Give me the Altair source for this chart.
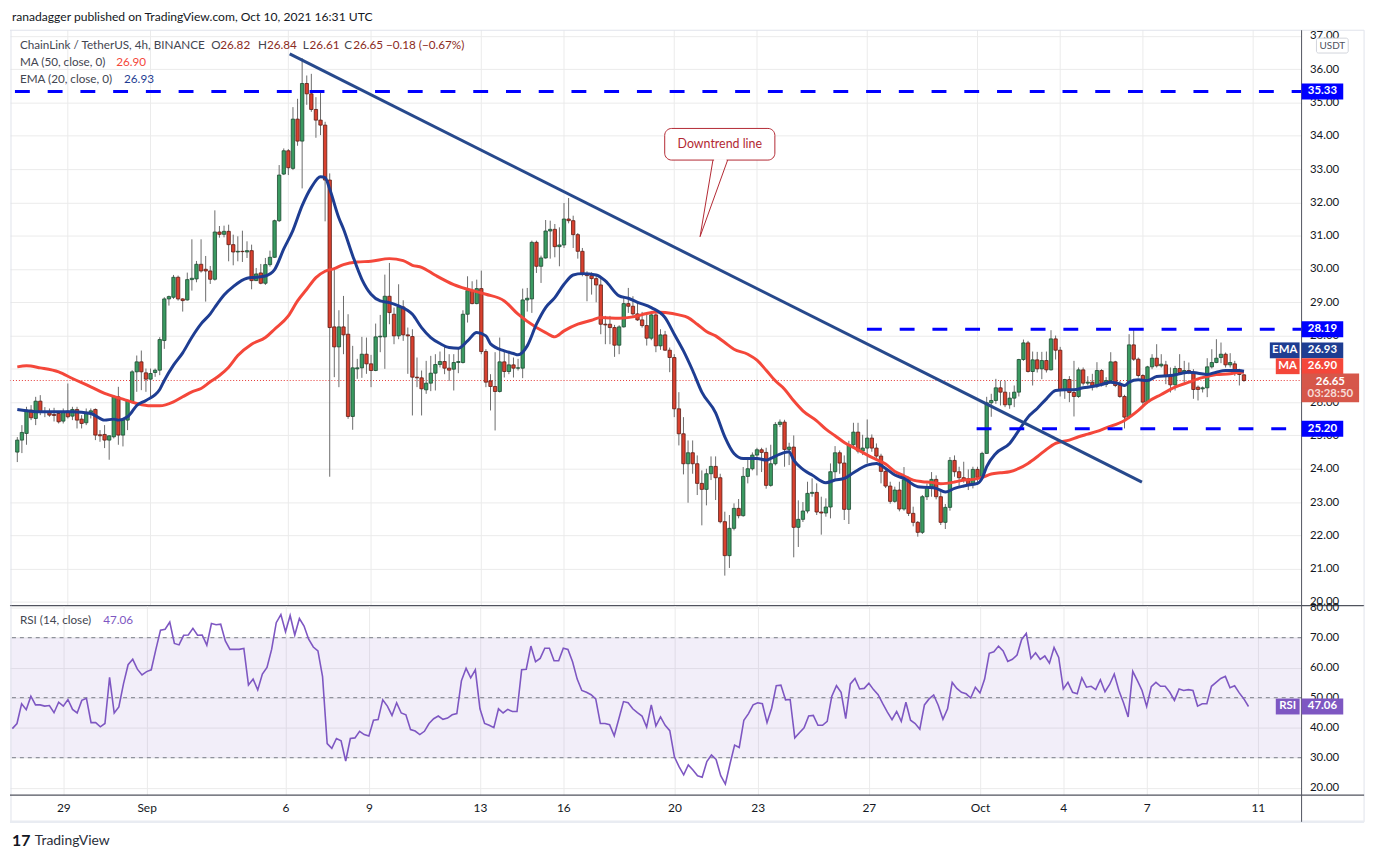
import altair as alt
import pandas as pd

# ---------------- values ----------------
# 4h candles of LINK/USDT, the first one opens 2021-08-27 04:00
first_open = "2021-08-27 04:00"
opens = [
    24.50, 24.86, 25.06, 25.76, 25.51, 26.03, 25.69, 25.71, 25.63, 25.66,
    25.43, 25.73, 25.58, 25.78, 25.49, 25.38, 25.69, 25.78, 25.02, 25.03,
    24.86, 24.96, 26.16, 25.01, 25.46, 26.01, 26.91, 27.21, 26.88, 26.69,
    26.89, 26.96, 27.85, 29.10, 29.15, 29.75, 29.10, 29.07, 29.68, 29.70,
    30.14, 29.99, 29.94, 29.69, 31.11, 31.04, 31.13, 30.73, 30.51, 30.53,
    30.51, 30.55, 29.65, 29.88, 29.57, 30.13, 30.35, 31.45, 32.85, 33.55,
    33.02, 34.50, 33.84, 35.57, 35.26, 34.79, 34.47, 34.32, 32.67, 28.26,
    27.66, 28.26, 28.04, 25.57, 27.00, 27.03, 27.44, 27.15, 26.95, 27.96,
    27.96, 29.18, 28.64, 27.99, 28.86, 28.02, 27.97, 26.75, 26.73, 26.37,
    26.57, 26.87, 27.13, 27.22, 27.02, 26.99, 27.19, 27.19, 28.64, 29.35,
    28.96, 29.41, 27.52, 26.64, 26.47, 26.32, 27.21, 26.92, 27.12, 27.02,
    27.02, 29.07, 29.10, 30.80, 30.08, 30.33, 31.14, 31.19, 30.67, 30.72,
    31.50, 31.45, 31.03, 30.53, 29.85, 29.80, 29.71, 29.52, 28.34, 28.34,
    28.24, 27.71, 28.26, 28.96, 28.88, 28.65, 28.47, 28.30, 27.92, 28.62,
    27.69, 28.02, 27.56, 27.34, 25.80, 25.05, 24.15, 24.48, 24.15, 23.56,
    23.38, 23.85, 24.07, 23.73, 22.41, 21.39, 22.21, 22.81, 22.59, 23.77,
    24.00, 24.41, 24.57, 24.49, 23.50, 24.15, 25.33, 25.40, 24.58, 24.65,
    22.24, 22.48, 22.73, 23.26, 23.29, 22.70, 22.67, 22.85, 23.91, 24.48,
    24.17, 22.78, 24.72, 25.10, 24.53, 24.62, 24.92, 24.62, 24.38, 23.92,
    23.48, 23.02, 23.36, 22.79, 23.67, 22.66, 22.39, 22.09, 23.16, 23.44,
    23.68, 23.16, 22.39, 22.84, 24.25, 23.91, 23.73, 23.70, 23.52, 23.98,
    23.74, 24.46, 25.98, 26.05, 26.43, 26.30, 25.92, 26.12, 26.30, 27.28,
    27.78, 26.92, 27.27, 27.00, 27.25, 26.97, 27.90, 27.56, 26.35, 26.68,
    26.29, 26.17, 26.97, 26.57, 26.60, 26.48, 26.95, 26.53, 26.65, 27.21,
    26.50, 26.17, 25.55, 27.72, 27.29, 26.80, 26.00, 27.06, 27.32, 27.09,
    27.12, 26.79, 26.52, 27.01, 26.90, 26.95, 26.90, 26.45, 26.40, 26.43,
    27.06, 27.19, 27.34, 27.44, 27.12, 27.15, 26.95, 26.82,
]
highs = [
    24.95, 25.31, 25.86, 25.91, 26.16, 26.21, 25.85, 25.81, 25.83, 25.71,
    25.81, 26.56, 25.86, 25.86, 25.61, 25.81, 25.81, 25.81, 25.16, 25.31,
    25.00, 26.21, 26.46, 25.51, 26.06, 26.96, 27.40, 27.55, 27.01, 27.01,
    27.01, 27.95, 29.15, 29.20, 29.82, 29.80, 29.12, 29.89, 30.89, 30.24,
    30.89, 30.39, 30.09, 31.76, 31.29, 31.30, 31.33, 31.03, 30.98, 31.15,
    30.83, 30.73, 30.03, 30.15, 30.33, 30.55, 31.48, 33.12, 33.62, 33.60,
    34.86, 35.11, 36.33, 35.81, 35.86, 35.16, 35.36, 34.42, 32.87, 30.03,
    28.76, 29.19, 28.64, 27.69, 27.30, 27.96, 27.94, 27.42, 28.36, 28.62,
    29.83, 30.18, 28.84, 29.54, 29.06, 28.24, 28.19, 27.34, 26.95, 27.24,
    27.39, 27.44, 27.52, 27.67, 27.44, 27.44, 27.64, 28.76, 29.78, 29.63,
    29.68, 29.95, 27.59, 26.84, 27.50, 27.94, 27.54, 27.54, 27.34, 27.30,
    29.41, 29.43, 30.85, 30.85, 30.40, 31.47, 31.45, 31.35, 31.25, 31.98,
    32.13, 31.60, 31.08, 30.63, 29.93, 29.90, 29.81, 29.73, 28.59, 28.59,
    28.32, 28.31, 29.18, 29.43, 29.18, 28.98, 28.71, 28.66, 28.74, 28.71,
    28.19, 28.14, 27.64, 27.44, 26.30, 25.55, 24.85, 24.85, 24.40, 23.95,
    24.00, 24.37, 24.37, 23.85, 22.71, 22.61, 22.96, 23.09, 24.05, 24.27,
    24.49, 24.63, 24.63, 24.63, 24.72, 25.40, 25.48, 25.47, 24.78, 25.00,
    23.05, 23.00, 23.61, 23.71, 23.56, 23.16, 23.11, 24.16, 24.68, 24.55,
    24.40, 24.84, 25.38, 25.38, 25.02, 25.48, 25.03, 24.76, 24.45, 24.05,
    23.61, 23.46, 23.61, 24.05, 23.76, 22.86, 22.43, 23.21, 23.56, 23.90,
    23.80, 23.31, 22.94, 24.35, 24.40, 24.06, 24.21, 23.98, 24.06, 24.06,
    24.51, 26.16, 26.25, 26.70, 26.65, 26.65, 26.30, 26.50, 27.30, 27.88,
    27.84, 27.52, 27.51, 27.51, 27.52, 28.16, 28.00, 27.66, 26.70, 26.78,
    27.24, 27.04, 27.04, 26.78, 26.85, 27.20, 26.99, 26.75, 27.50, 27.24,
    26.64, 26.22, 28.04, 28.19, 27.34, 26.84, 27.09, 27.44, 27.74, 27.44,
    27.24, 27.04, 27.09, 27.44, 27.24, 27.19, 26.99, 26.50, 26.47, 27.32,
    27.59, 27.89, 27.79, 27.49, 27.47, 27.24, 27.00, 26.84,
]
lows = [
    24.20, 24.47, 24.72, 25.46, 25.31, 25.61, 25.55, 25.56, 25.42, 25.36,
    25.36, 25.51, 25.46, 25.21, 25.21, 25.31, 25.51, 24.86, 24.81, 24.62,
    24.27, 24.91, 24.72, 24.67, 25.16, 25.96, 26.31, 26.36, 26.31, 26.11,
    26.76, 26.81, 27.60, 28.90, 29.10, 29.05, 28.72, 29.05, 29.35, 29.60,
    29.89, 29.02, 29.55, 29.65, 30.94, 30.95, 30.23, 30.11, 30.23, 30.21,
    30.33, 29.39, 29.64, 29.54, 29.52, 30.07, 30.33, 31.41, 32.82, 32.82,
    32.97, 33.70, 32.42, 34.93, 34.72, 33.94, 34.02, 31.43, 23.76, 26.75,
    26.45, 27.44, 25.50, 25.17, 26.70, 26.73, 26.85, 26.45, 26.93, 27.50,
    27.00, 28.34, 27.74, 27.89, 27.84, 26.85, 25.60, 26.45, 25.60, 26.25,
    26.33, 26.35, 27.04, 26.84, 26.64, 26.35, 26.87, 27.16, 28.39, 28.94,
    28.94, 27.44, 26.45, 25.75, 25.15, 26.29, 26.74, 26.84, 26.74, 26.95,
    26.72, 28.72, 28.68, 29.88, 29.58, 30.31, 30.31, 30.35, 30.08, 30.63,
    31.37, 30.63, 30.31, 29.78, 29.03, 29.23, 29.00, 28.04, 27.74, 27.74,
    27.36, 27.44, 28.24, 28.68, 28.59, 28.44, 28.24, 27.70, 27.86, 27.50,
    27.57, 27.54, 26.90, 25.55, 24.70, 23.83, 22.98, 23.85, 23.21, 22.30,
    22.90, 23.66, 23.06, 22.36, 20.79, 21.02, 22.15, 22.51, 22.56, 23.56,
    23.95, 23.80, 23.90, 23.40, 23.46, 24.10, 25.25, 24.06, 24.11, 21.34,
    21.65, 22.40, 22.66, 23.16, 22.61, 22.02, 22.56, 22.51, 23.66, 23.85,
    22.46, 22.34, 24.63, 24.46, 24.41, 24.16, 24.51, 24.26, 23.56, 23.42,
    22.95, 22.98, 22.72, 22.74, 22.58, 22.27, 21.96, 22.04, 23.06, 23.16,
    23.08, 22.31, 22.19, 22.74, 23.76, 23.48, 23.58, 23.36, 23.41, 23.51,
    23.71, 24.45, 25.56, 25.95, 25.90, 25.85, 25.80, 25.85, 26.17, 27.24,
    26.89, 26.50, 26.89, 26.69, 26.89, 26.95, 27.28, 26.17, 26.10, 26.00,
    25.57, 26.13, 26.50, 26.50, 26.35, 26.42, 26.47, 26.45, 26.60, 26.45,
    26.13, 25.21, 25.49, 27.24, 26.74, 25.90, 25.95, 26.99, 27.04, 27.04,
    26.54, 26.29, 26.35, 26.84, 26.60, 26.84, 26.10, 26.05, 26.29, 26.15,
    27.01, 27.17, 27.17, 27.04, 27.04, 26.79, 26.50, 26.61,
]
closes = [
    24.86, 25.09, 25.76, 25.53, 26.03, 25.69, 25.71, 25.61, 25.60, 25.41,
    25.71, 25.56, 25.78, 25.46, 25.36, 25.69, 25.74, 25.01, 24.99, 24.86,
    24.99, 26.16, 25.01, 25.46, 26.03, 26.91, 27.21, 26.91, 26.69, 26.86,
    26.96, 27.88, 29.10, 29.17, 29.75, 29.10, 29.05, 29.68, 29.72, 30.14,
    29.94, 29.94, 29.69, 31.11, 31.04, 31.13, 30.73, 30.51, 30.53, 30.52,
    30.55, 29.65, 29.85, 29.57, 30.13, 30.35, 31.45, 32.82, 33.55, 33.04,
    34.50, 33.84, 35.57, 35.26, 34.79, 34.47, 34.32, 32.67, 28.24, 27.66,
    28.26, 28.02, 25.57, 27.03, 27.03, 27.44, 27.15, 26.95, 27.96, 27.98,
    29.18, 28.69, 27.99, 28.86, 28.02, 27.99, 26.75, 26.73, 26.40, 26.57,
    26.87, 27.13, 27.22, 27.02, 26.96, 27.19, 27.22, 28.64, 29.35, 28.96,
    29.41, 27.52, 26.60, 26.47, 26.32, 27.21, 26.92, 27.12, 27.02, 27.03,
    29.07, 29.12, 30.80, 30.08, 30.33, 31.14, 31.19, 30.67, 30.72, 31.50,
    31.45, 31.03, 30.53, 29.85, 29.80, 29.71, 29.52, 28.34, 28.32, 28.24,
    27.71, 28.26, 28.96, 28.88, 28.65, 28.47, 28.30, 27.92, 28.62, 27.69,
    28.02, 27.56, 27.34, 25.80, 25.05, 24.15, 24.48, 24.15, 23.56, 23.38,
    23.85, 24.07, 23.73, 22.41, 21.39, 22.21, 22.81, 22.59, 23.77, 24.00,
    24.41, 24.57, 24.49, 23.50, 24.15, 25.33, 25.40, 24.58, 24.65, 22.24,
    22.48, 22.73, 23.26, 23.29, 22.70, 22.67, 22.85, 23.91, 24.48, 24.17,
    22.78, 24.72, 25.10, 24.53, 24.62, 24.92, 24.62, 24.38, 23.92, 23.48,
    23.02, 23.36, 22.79, 23.67, 22.66, 22.39, 22.09, 23.16, 23.44, 23.68,
    23.16, 22.39, 22.84, 24.25, 23.91, 23.73, 23.68, 23.50, 23.98, 23.74,
    24.46, 25.98, 26.05, 26.43, 26.30, 25.92, 26.12, 26.30, 27.28, 27.78,
    26.92, 27.27, 27.00, 27.25, 26.97, 27.90, 27.56, 26.35, 26.68, 26.29,
    26.17, 26.97, 26.57, 26.60, 26.48, 26.95, 26.53, 26.65, 27.21, 26.50,
    26.17, 25.55, 27.72, 27.29, 26.80, 26.00, 27.06, 27.32, 27.09, 27.14,
    26.79, 26.52, 27.01, 26.89, 26.95, 26.90, 26.38, 26.38, 26.43, 27.06,
    27.19, 27.32, 27.44, 27.12, 27.19, 26.95, 26.83, 26.65,
]
rsi_values = [
    39.7, 41.4, 48.0, 46.0, 50.5, 47.6, 47.6, 47.2, 47.4, 45.0,
    48.5, 47.2, 49.4, 46.1, 44.9, 49.1, 49.8, 41.7, 41.7, 40.3,
    41.4, 56.8, 44.9, 46.9, 54.6, 61.0, 62.8, 59.5, 57.6, 58.7,
    59.3, 66.1, 72.5, 72.8, 75.2, 68.1, 67.6, 70.8, 70.9, 73.1,
    70.8, 70.9, 67.5, 74.7, 74.3, 74.5, 68.9, 66.1, 66.1, 66.1,
    66.4, 54.2, 56.2, 52.6, 57.9, 60.1, 66.1, 75.0, 77.7, 72.0,
    77.4, 70.9, 76.4, 73.9, 69.5, 66.9, 65.6, 57.0, 34.7, 33.1,
    36.4, 35.6, 28.9, 36.4, 36.6, 38.8, 37.7, 37.2, 42.5, 42.7,
    49.3, 47.2, 44.1, 48.3, 44.9, 44.3, 39.4, 38.9, 37.7, 38.8,
    41.4, 43.0, 43.9, 42.8, 43.2, 44.3, 44.7, 55.7, 59.8, 56.6,
    59.3, 46.3, 41.4, 40.8, 40.0, 46.3, 44.9, 46.1, 45.4, 45.4,
    59.3, 59.5, 67.2, 62.0, 63.1, 66.5, 66.5, 62.3, 62.3, 66.5,
    66.1, 62.0, 56.2, 52.4, 51.8, 51.0, 49.6, 41.4, 41.4, 41.0,
    37.3, 43.0, 48.7, 48.3, 46.3, 45.0, 43.9, 40.2, 47.6, 40.6,
    43.6, 40.8, 39.0, 30.3, 27.0, 24.3, 27.6, 25.9, 24.0, 23.5,
    28.7, 30.9, 29.4, 24.0, 21.2, 27.9, 34.2, 33.4, 42.5, 44.7,
    47.6, 48.3, 48.0, 41.7, 46.5, 54.0, 54.2, 49.3, 49.4, 36.6,
    38.3, 40.0, 43.9, 44.1, 40.8, 40.8, 42.1, 50.5, 54.0, 51.8,
    43.0, 54.6, 56.4, 52.9, 53.1, 54.8, 52.7, 51.0, 48.0, 45.2,
    42.7, 45.4, 42.1, 48.5, 42.5, 41.4, 39.5, 47.6, 49.6, 50.9,
    47.4, 42.8, 46.3, 55.1, 53.1, 51.8, 51.3, 49.9, 53.5, 51.6,
    56.2, 64.8, 65.3, 67.2, 65.6, 62.1, 62.8, 64.2, 69.4, 71.4,
    63.1, 65.0, 62.8, 63.9, 61.5, 66.7, 63.4, 52.9, 55.1, 51.8,
    51.3, 56.6, 53.5, 53.8, 52.7, 56.0, 52.0, 54.4, 57.9, 52.4,
    48.3, 43.6, 58.8, 55.7, 52.4, 47.1, 53.7, 55.1, 53.8, 53.8,
    51.8, 49.1, 52.9, 52.4, 52.7, 52.4, 47.2, 48.0, 48.0, 53.8,
    55.1, 56.4, 57.1, 53.3, 54.0, 51.6, 49.6, 47.06,
]
# EMA(20) and MA(50) read at these candle numbers
ema_bar = [0, 5, 12, 16, 19, 21, 22, 24, 25, 26, 28, 31, 32, 34, 36, 38, 40, 42, 43, 45,
           47, 50, 52, 54, 56, 58, 60, 62, 64, 66, 67, 68, 70, 71, 73, 75, 77, 79, 81, 83,
           86, 88, 90, 92, 94, 96, 98, 100, 102, 103, 106, 108, 109, 111, 113, 115, 117, 119, 121, 123,
           126, 128, 131, 133, 135, 138, 141, 143, 145, 147, 149, 152, 154, 156, 158, 161, 163, 164, 166, 168,
           169, 171, 173, 176, 178, 180, 182, 185, 187, 189, 191, 193, 196, 198, 200, 202, 204, 206, 207, 209,
           210, 211, 213, 216, 218, 220, 222, 224, 226, 228, 230, 232, 234, 236, 238, 240, 241, 242, 244, 246,
           248, 251, 253, 255, 257, 259, 261, 263, 266, 267]
ema_values = [25.78, 25.71, 25.71, 25.66, 25.46, 25.49, 25.46, 25.56, 25.72, 25.90, 26.05, 26.38, 26.65, 27.11, 27.48, 27.95, 28.35, 28.65, 28.85, 29.22,
              29.47, 29.72, 29.75, 29.79, 29.98, 30.60, 31.16, 31.90, 32.45, 32.77, 32.74, 32.40, 31.53, 31.20, 30.40, 29.69, 29.24, 29.04, 28.99, 28.89,
              28.64, 28.24, 27.94, 27.76, 27.64, 27.62, 27.84, 28.09, 27.99, 27.75, 27.54, 27.46, 27.42, 27.69, 28.34, 28.84, 29.14, 29.54, 29.82, 29.86,
              29.82, 29.64, 29.19, 29.12, 29.00, 28.84, 28.54, 28.04, 27.54, 26.95, 26.30, 25.68, 24.96, 24.46, 24.31, 24.31, 24.26, 24.31, 24.44, 24.51,
              24.26, 23.98, 23.81, 23.58, 23.66, 23.71, 23.88, 24.11, 24.16, 24.01, 23.81, 23.71, 23.46, 23.44, 23.41, 23.30, 23.41, 23.48, 23.51, 23.56,
              23.71, 24.06, 24.46, 24.76, 25.15, 25.55, 25.81, 26.10, 26.35, 26.37, 26.37, 26.43, 26.47, 26.53, 26.60, 26.55, 26.50, 26.60, 26.67, 26.65,
              26.77, 26.80, 26.85, 26.90, 26.87, 26.83, 26.90, 26.95, 26.95, 26.93]
ma_bar = [0, 2, 5, 9, 12, 16, 19, 23, 26, 29, 31, 34, 36, 38, 40, 42, 44, 46, 48, 51,
          54, 56, 59, 61, 63, 65, 67, 69, 71, 74, 77, 81, 84, 86, 88, 91, 95, 98, 102, 106,
          109, 113, 115, 117, 119, 122, 125, 127, 131, 134, 137, 139, 141, 144, 146, 148, 150, 152, 154, 156,
          159, 161, 163, 165, 167, 169, 171, 174, 176, 178, 180, 182, 184, 186, 189, 191, 193, 195, 197, 199,
          201, 204, 206, 208, 210, 212, 214, 216, 218, 220, 222, 224, 226, 229, 231, 233, 235, 237, 241, 244,
          246, 249, 252, 255, 257, 259, 261, 264, 266, 267]
ma_values = [27.06, 27.09, 27.03, 26.91, 26.71, 26.46, 26.26, 26.09, 25.96, 25.89, 25.89, 26.01, 26.16, 26.31, 26.41, 26.61, 26.80, 27.05, 27.40, 27.74,
             27.94, 28.19, 28.59, 29.04, 29.39, 29.74, 29.93, 30.01, 30.13, 30.21, 30.23, 30.31, 30.25, 30.11, 30.05, 29.81, 29.53, 29.39, 29.24, 29.04,
             28.64, 28.24, 28.09, 27.96, 28.14, 28.34, 28.46, 28.54, 28.52, 28.56, 28.66, 28.71, 28.69, 28.62, 28.54, 28.34, 28.12, 27.99, 27.79, 27.59,
             27.44, 27.26, 26.96, 26.64, 26.39, 26.04, 25.74, 25.44, 25.19, 24.99, 24.79, 24.64, 24.49, 24.34, 24.14, 23.92, 23.79, 23.66, 23.61, 23.59,
             23.55, 23.60, 23.66, 23.68, 23.74, 23.84, 23.88, 23.91, 24.01, 24.16, 24.36, 24.58, 24.76, 24.86, 24.96, 25.04, 25.12, 25.23, 25.45, 25.75,
             26.00, 26.23, 26.45, 26.60, 26.70, 26.77, 26.83, 26.85, 26.90, 26.90]

# horizontal levels, downtrend line and callout
level_prices = [35.33, 28.19, 25.20]
level_starts = ["2021-08-27T01:57:00", "2021-09-26T23:45:00", "2021-09-30T23:15:00"]
trend_times = ["2021-09-06T01:10:00", "2021-10-06T23:10:00"]
trend_prices = [36.46, 23.60]
note_text = "Downtrend line"
note_box_times = ["2021-09-19T15:40:00", "2021-09-23T15:35:00"]
note_box_prices = [34.22, 33.27]
note_center = ["2021-09-21T15:39:00", 33.745]
pointer_times = ["2021-09-21T09:40:00", "2021-09-20T22:27:00", "2021-09-21T22:27:00"]
pointer_prices = [33.27, 30.97, 33.27]
countdown = "03:28:50"
tick_days = [(8, 29), (9, 1), (9, 6), (9, 9), (9, 13), (9, 16), (9, 20), (9, 23), (9, 27),
             (10, 1), (10, 4), (10, 7), (10, 11)]
price_ticks = list(range(20, 38))
rsi_ticks = [20, 30, 40, 50, 60, 70, 80]
rsi_levels = [30, 50, 70]

# ---------------- style ----------------
FONT = "Lato"
TXT = "#131722"
LEG = "#434651"
GRID = "#ebebeb"
UP_FILL, UP_LINE = "#3a9a61", "#1d4a31"
DN_FILL, DN_LINE = "#d9412f", "#5e1d15"
WICK = "#6b6b6b"
EMA_C = "#1e3d92"
MA_C = "#f4473a"
LEVEL_C = "#0000ff"
TREND_C = "#27498c"
RSI_C = "#7e57c2"
NOTE_C = "#b22833"
VAL_C = "#8b2b22"
BORDER = "#e0e3eb"
AXLINE = "#50535e"
LEG_SIZE = 11.8

W, H, HR = 1302, 580, 191

times = pd.date_range(first_open, periods=len(closes), freq="4h")
tstr = times.strftime("%Y-%m-%dT%H:%M:%S").tolist()

xs = alt.Scale(domain=[alt.DateTime(year=2021, month=8, date=27, hours=1, minutes=57),
                       alt.DateTime(year=2021, month=10, date=12, hours=13, minutes=51)])
ys = alt.Scale(domain=[19.89, 37.17], nice=False, zero=False)
rs = alt.Scale(domain=[17.55, 80.7], nice=False, zero=False)

yax = alt.Axis(orient="right", values=price_ticks, format=".2f", grid=True, gridColor=GRID,
               domain=False, ticks=False, labelPadding=8, labelFontSize=11.5, labelColor=TXT,
               labelFont=FONT, title=None, labelOverlap=False)
rax = alt.Axis(orient="right", values=rsi_ticks, format=".2f", grid=True, gridColor=GRID,
               domain=False, ticks=False, labelPadding=8, labelFontSize=11.5, labelColor=TXT,
               labelFont=FONT, title=None, labelOverlap=False)
tick_dt = [alt.DateTime(year=2021, month=m, date=d) for m, d in tick_days]
xax_r = alt.Axis(values=tick_dt, grid=True, gridColor=GRID, domain=False, ticks=False,
                 labelPadding=8, labelFontSize=12, labelColor=TXT, labelFont=FONT, title=None,
                 labelOverlap=False, labelFlush=False,
                 labelExpr="date(datum.value) == 1 ? timeFormat(datum.value, '%b') : timeFormat(datum.value, '%-d')")


def xenc(field="t"):
    return alt.X(f"{field}:T", scale=xs, axis=None)


def yenc(field):
    return alt.Y(f"{field}:Q", scale=ys, axis=yax)


one = pd.DataFrame({"k": [0]})


def label(text, x, y, color=LEG, size=LEG_SIZE, weight="normal", align="left"):
    return alt.Chart(one).mark_text(text=text, align=align, baseline="middle", fontSize=size,
                                    fontWeight=weight, color=color, font=FONT).encode(
        x=alt.value(x), y=alt.value(y))


def rule_px(x, x2, y, y2, color, width=1.0):
    return alt.Chart(one).mark_rule(color=color, strokeWidth=width).encode(
        x=alt.value(x), x2=alt.value(x2), y=alt.value(y), y2=alt.value(y2))


def tag(value, text, color, x0, x1, scale, axis, yoff=0, thick=16, tyoff=None, tcolor="white"):
    d = pd.DataFrame({"v": [value]})
    box = alt.Chart(d).mark_rule(color=color, strokeWidth=thick, strokeCap="butt", yOffset=yoff).encode(
        x=alt.value(x0), x2=alt.value(x1), y=alt.Y("v:Q", scale=scale, axis=axis))
    t = alt.Chart(d).mark_text(text=text, align="center", baseline="middle", color=tcolor, fontSize=11.5,
                               fontWeight="bold", font=FONT,
                               yOffset=yoff if tyoff is None else tyoff).encode(
        x=alt.value((x0 + x1) / 2), y=alt.Y("v:Q", scale=scale, axis=axis))
    return [box, t]


# ---------------- price pane ----------------
cdf = pd.DataFrame({"t": tstr, "o": opens, "h": highs, "l": lows, "c": closes})
cdf["dir"] = ["up" if c >= o else "down" for o, c in zip(opens, closes)]

tick_df = pd.DataFrame({"t": [f"2021-{m:02d}-{d:02d}T00:00:00" for m, d in tick_days]})
vgrid = alt.Chart(tick_df).mark_rule(color=GRID, strokeWidth=1).encode(x=xenc())

cur_df = pd.DataFrame({"p": [closes[-1]]})
cur_line = alt.Chart(cur_df).mark_rule(color="#e53935", strokeWidth=1, strokeDash=[1, 2]).encode(
    y=yenc("p"), x=alt.value(0), x2=alt.value(W))

wicks = alt.Chart(cdf).mark_rule(color=WICK, strokeWidth=1).encode(x=xenc(), y=yenc("l"), y2="h:Q")
bodies = alt.Chart(cdf).mark_bar(size=3.4, strokeWidth=0.8).encode(
    x=xenc(), y=yenc("o"), y2="c:Q",
    fill=alt.Fill("dir:N", scale=alt.Scale(domain=["up", "down"], range=[UP_FILL, DN_FILL]), legend=None),
    stroke=alt.Stroke("dir:N", scale=alt.Scale(domain=["up", "down"], range=[UP_LINE, DN_LINE]), legend=None))

ema_df = pd.DataFrame({"t": [tstr[i] for i in ema_bar], "v": ema_values})
ma_df = pd.DataFrame({"t": [tstr[i] for i in ma_bar], "v": ma_values})
ma_line = alt.Chart(ma_df).mark_line(color=MA_C, strokeWidth=3, interpolate="monotone").encode(
    x=xenc(), y=yenc("v"))
ema_line = alt.Chart(ema_df).mark_line(color=EMA_C, strokeWidth=3, interpolate="monotone").encode(
    x=xenc(), y=yenc("v"))

level_df = pd.DataFrame({"p": level_prices, "t0": level_starts})
levels = alt.Chart(level_df).mark_rule(color=LEVEL_C, strokeWidth=3, strokeDash=[15, 18]).encode(
    x=xenc("t0"), x2=alt.value(W), y=yenc("p"))

trend_df = pd.DataFrame({"t": trend_times, "p": trend_prices})
trend = alt.Chart(trend_df).mark_line(color=TREND_C, strokeWidth=3).encode(x=xenc(), y=yenc("p"))

box_df = pd.DataFrame({"t": [note_box_times[0]], "t2": [note_box_times[1]],
                       "p": [note_box_prices[0]], "p2": [note_box_prices[1]]})
note_box = alt.Chart(box_df).mark_rect(fill="white", stroke=NOTE_C, strokeWidth=1, cornerRadius=7).encode(
    x=xenc(), x2="t2:T", y=yenc("p"), y2="p2:Q")
ptr_df = pd.DataFrame({"t": pointer_times, "p": pointer_prices, "o": [0, 1, 2]})
pointer = alt.Chart(ptr_df).mark_line(color=NOTE_C, strokeWidth=1).encode(
    x=xenc(), y=yenc("p"), order="o:Q")
gap_df = pd.DataFrame({"t": ["2021-09-21T10:40:00"], "t2": ["2021-09-21T21:30:00"], "p": [pointer_prices[0]]})
gap = alt.Chart(gap_df).mark_rule(color="white", strokeWidth=2).encode(x=xenc(), x2="t2:T", y=yenc("p"))
nt_df = pd.DataFrame({"t": [note_center[0]], "p": [note_center[1]]})
note_txt = alt.Chart(nt_df).mark_text(text=note_text, fontSize=12.5, color=NOTE_C, font=FONT,
                                       align="center", baseline="middle").encode(x=xenc(), y=yenc("p"))

chg = closes[-1] - closes[-2]
pct = chg / closes[-2] * 100
chg_txt = f"{chg:.2f} ({pct:.2f}%)".replace("-", "\u2212")

price_layers = [
    vgrid, cur_line, wicks, bodies, ma_line, ema_line, levels, trend,
    note_box, gap, pointer, note_txt,
    # header and borders
    label("ranadagger published on TradingView.com, Oct 10, 2021 16:31 UTC", 2, -13, TXT, 12.2),
    rule_px(0, W + 63, 0, 0, BORDER),
    rule_px(1, 1, 0, H, BORDER),
    rule_px(W + 63, W + 63, 0, H, BORDER),
    rule_px(W, W, 0, H, AXLINE),
    rule_px(0, W + 63, H, H, AXLINE, 1.2),
    # legend
    label("ChainLink / TetherUS, 4h, BINANCE", 10, 15),
    label("O", 203, 15), label(f"{opens[-1]:.2f}", 212, 15, VAL_C),
    label("H", 250, 15), label(f"{highs[-1]:.2f}", 259, 15, VAL_C),
    label("L", 295, 15), label(f"{lows[-1]:.2f}", 302, 15, VAL_C),
    label("C", 337, 15), label(f"{closes[-1]:.2f}", 346, 15, VAL_C),
    label(chg_txt, 379, 15, VAL_C),
    label("MA (50, close, 0)", 10, 32), label(f"{ma_values[-1]:.2f}", 107, 32, MA_C),
    label("EMA (20, close, 0)", 10, 49), label(f"{ema_values[-1]:.2f}", 115, 49, EMA_C),
    # USDT box
    alt.Chart(one).mark_rect(fill="white", stroke="#d1d4dc", cornerRadius=2).encode(
        x=alt.value(W + 15), x2=alt.value(W + 47), y=alt.value(8), y2=alt.value(23)),
    label("USDT", W + 31, 15.5, "#50535e", 10, align="center"),
]
for p in level_prices:
    price_layers += tag(p, f"{p:.2f}", LEVEL_C, W, W + 42, ys, yax)
price_layers += tag(ema_values[-1], "EMA", EMA_C, W - 32, W - 2, ys, yax, yoff=-21)
price_layers += tag(ema_values[-1], f"{ema_values[-1]:.2f}", EMA_C, W, W + 42, ys, yax, yoff=-21)
price_layers += tag(ma_values[-1], "MA", MA_C, W - 26, W - 2, ys, yax, yoff=-6)
price_layers += tag(ma_values[-1], f"{ma_values[-1]:.2f}", MA_C, W, W + 42, ys, yax, yoff=-6)
price_layers += tag(closes[-1], f"{closes[-1]:.2f}", "#d6574a", W, W + 58, ys, yax, yoff=7.5, thick=29, tyoff=1.5)
price_layers += tag(closes[-1], countdown, "#d6574a", W, W + 58, ys, yax, yoff=7.5, thick=0.1,
                    tyoff=14, tcolor="#f7dcd7")

price = alt.layer(*price_layers).properties(width=W, height=H)

# ---------------- RSI pane ----------------
rdf = pd.DataFrame({"t": tstr, "r": rsi_values})
band = alt.Chart(pd.DataFrame({"hi": [rsi_levels[2]], "lo": [rsi_levels[0]]})).mark_rect(
    color=RSI_C, opacity=0.1).encode(
    x=alt.value(0), x2=alt.value(W), y=alt.Y("hi:Q", scale=rs, axis=rax), y2="lo:Q")
rsi_dash = alt.Chart(pd.DataFrame({"v": rsi_levels})).mark_rule(
    color="#787b86", strokeWidth=1, strokeDash=[4, 4]).encode(y=alt.Y("v:Q", scale=rs, axis=rax))
rsi_line = alt.Chart(rdf).mark_line(color=RSI_C, strokeWidth=1.6).encode(
    x=alt.X("t:T", scale=xs, axis=xax_r), y=alt.Y("r:Q", scale=rs, axis=rax))

rsi_layers = [
    band, rsi_dash, rsi_line,
    rule_px(1, 1, 0, HR + 27, BORDER),
    rule_px(W + 63, W + 63, 0, HR + 27, BORDER),
    rule_px(0, W + 63, HR + 27, HR + 27, "#e9ecf2", 2.5),
    rule_px(W, W, 0, HR + 27, AXLINE),
    rule_px(0, W + 63, HR, HR, AXLINE, 1.2),
    label("RSI (14, close)", 10, 15),
    label(f"{rsi_values[-1]:.2f}", 94, 15, RSI_C),
    label("17", 2, HR + 46, TXT, 16, "bold"),
    label("TradingView", 25, HR + 46, "#2a2e39", 14, "normal"),
]
rsi_layers += tag(rsi_values[-1], "RSI", RSI_C, W - 26, W - 2, rs, rax)
rsi_layers += tag(rsi_values[-1], f"{rsi_values[-1]:.2f}", RSI_C, W, W + 42, rs, rax)

rsi = alt.layer(*rsi_layers).properties(width=W, height=HR)

chart = alt.vconcat(price, rsi, spacing=0, bounds="flush").properties(
    padding=0, background="white").configure_view(stroke=None)

chart.save("out.html", embed_options={"renderer": "svg", "actions": False})
